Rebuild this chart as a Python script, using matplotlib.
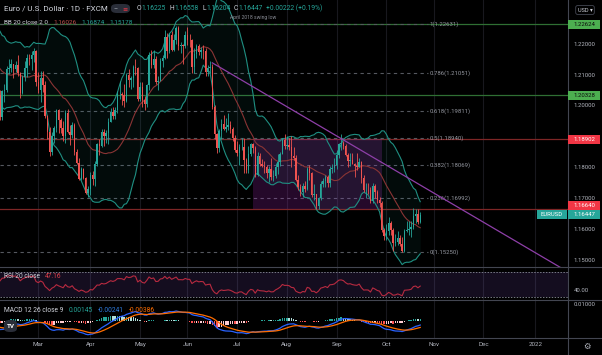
import numpy as np
import pandas as pd
import matplotlib.pyplot as plt
from matplotlib import transforms
from matplotlib.lines import Line2D
from matplotlib.patches import Rectangle, FancyBboxPatch

plt.rcParams['font.family'] = ['Roboto', 'DejaVu Sans']

W, H = 602, 355
BG = '#000000'
TXT = '#d1d4dc'
AXT = '#b2b5be'
GREEN = '#26a69a'
RED = '#ef5350'

# EUR/USD daily (FXCM). January bars sit left of the view and only feed the indicators
warmup_close = [1.2250, 1.2297, 1.2326, 1.2270, 1.2220, 1.2150, 1.2207, 1.2160, 1.2155, 1.2080,
                1.2075, 1.2130, 1.2110, 1.2165, 1.2170, 1.2140, 1.2160, 1.2110, 1.2120, 1.2135,
                1.2060, 1.2040, 1.2035]

# one bar per weekday, 2021-02-04 .. 2021-10-22, open = previous close
close = [
    # feb
    1.1963, 1.2046, 1.2050, 1.2119, 1.2120, 1.2134, 1.2119, 1.2130, 1.2105, 1.2039, 1.2091, 1.2120,
    1.2155, 1.2150, 1.2165, 1.2175, 1.2075,
    # mar
    1.2050, 1.2090, 1.2065, 1.1966, 1.1915, 1.1848, 1.1900, 1.1928, 1.1984, 1.1952, 1.1928, 1.1900,
    1.1977, 1.1915, 1.1903, 1.1938, 1.1851, 1.1814, 1.1763, 1.1793, 1.1765, 1.1718, 1.1730,
    # apr
    1.1776, 1.1762, 1.1812, 1.1874, 1.1870, 1.1915, 1.1900, 1.1912, 1.1947, 1.1980, 1.1965, 1.1985,
    1.2036, 1.2037, 1.2034, 1.2016, 1.2098, 1.2081, 1.2090, 1.2126, 1.2120, 1.2020,
    # may
    1.2061, 1.2017, 1.2004, 1.2066, 1.2163, 1.2130, 1.2150, 1.2075, 1.2080, 1.2145, 1.2155, 1.2222,
    1.2175, 1.2228, 1.2180, 1.2213, 1.2250, 1.2193, 1.2195, 1.2192, 1.2228,
    # jun
    1.2213, 1.2212, 1.2126, 1.2166, 1.2193, 1.2172, 1.2180, 1.2175, 1.2107, 1.2120, 1.2125, 1.1995,
    1.1908, 1.1863, 1.1918, 1.1941, 1.1925, 1.1930, 1.1937, 1.1924, 1.1896, 1.1857,
    # jul
    1.1846, 1.1865, 1.1866, 1.1823, 1.1791, 1.1843, 1.1875, 1.1861, 1.1775, 1.1835, 1.1810, 1.1805,
    1.1800, 1.1780, 1.1795, 1.1770, 1.1772, 1.1800, 1.1818, 1.1843, 1.1888, 1.1870,
    # aug
    1.1872, 1.1865, 1.1835, 1.1830, 1.1760, 1.1735, 1.1720, 1.1740, 1.1730, 1.1795, 1.1780, 1.1710,
    1.1712, 1.1675, 1.1700, 1.1745, 1.1755, 1.1770, 1.1750, 1.1795, 1.1798, 1.1808,
    # sep
    1.1840, 1.1875, 1.1880, 1.1870, 1.1840, 1.1820, 1.1825, 1.1812, 1.1805, 1.1802, 1.1818, 1.1765,
    1.1725, 1.1727, 1.1725, 1.1690, 1.1740, 1.1720, 1.1695, 1.1683, 1.1596, 1.1578,
    # oct
    1.1595, 1.1620, 1.1598, 1.1555, 1.1558, 1.1570, 1.1553, 1.1528, 1.1595, 1.1597, 1.1600, 1.1608,
    1.1643, 1.1650, 1.16225, 1.16447,
]
high = [
    1.2050, 1.2050, 1.2068, 1.2128, 1.2150, 1.2150, 1.2135, 1.2145, 1.2165, 1.2110, 1.2100, 1.2145,
    1.2168, 1.2168, 1.2176, 1.2185, 1.2180,
    1.2110, 1.2112, 1.2113, 1.2080, 1.1970, 1.1930, 1.1915, 1.1935, 1.1990, 1.1990, 1.1960, 1.1950,
    1.1985, 1.1990, 1.1937, 1.1945, 1.1942, 1.1858, 1.1830, 1.1800, 1.1797, 1.1770, 1.1740,
    1.1785, 1.1788, 1.1820, 1.1880, 1.1890, 1.1925, 1.1925, 1.1920, 1.1960, 1.1992, 1.1995, 1.1995,
    1.2048, 1.2080, 1.2045, 1.2070, 1.2105, 1.2117, 1.2095, 1.2130, 1.2150, 1.2125,
    1.2075, 1.2075, 1.2030, 1.2070, 1.2172, 1.2180, 1.2180, 1.2160, 1.2095, 1.2155, 1.2165, 1.2245,
    1.2235, 1.2235, 1.2240, 1.2230, 1.2258, 1.2258, 1.2205, 1.2200, 1.2240,
    1.2255, 1.2230, 1.2215, 1.2185, 1.2200, 1.2200, 1.2190, 1.2195, 1.2185, 1.2130, 1.2145, 1.2135,
    1.2000, 1.1910, 1.1925, 1.1955, 1.1970, 1.1960, 1.1975, 1.1950, 1.1930, 1.1905,
    1.1885, 1.1876, 1.1895, 1.1895, 1.1830, 1.1868, 1.1880, 1.1880, 1.1870, 1.1848, 1.1845, 1.1828,
    1.1820, 1.1808, 1.1805, 1.1829, 1.1790, 1.1815, 1.1843, 1.1850, 1.1895, 1.1909,
    1.1900, 1.1895, 1.1900, 1.1865, 1.1840, 1.1775, 1.1745, 1.1750, 1.1755, 1.1802, 1.1806, 1.1785,
    1.1745, 1.1715, 1.1705, 1.1755, 1.1765, 1.1775, 1.1775, 1.1803, 1.1810, 1.1830,
    1.1857, 1.1880, 1.1909, 1.1885, 1.1875, 1.1845, 1.1845, 1.1845, 1.1815, 1.1845, 1.1830, 1.1820,
    1.1775, 1.1750, 1.1750, 1.1735, 1.1750, 1.1745, 1.1725, 1.1705, 1.1690, 1.1605,
    1.1615, 1.1640, 1.1625, 1.1605, 1.1585, 1.1595, 1.1580, 1.1575, 1.1600, 1.1625, 1.1625, 1.1625,
    1.1668, 1.1665, 1.1665, 1.16558,
]
low = [
    1.1952, 1.1952, 1.2012, 1.2044, 1.2102, 1.2108, 1.2090, 1.2110, 1.2095, 1.2023, 1.2036, 1.2080,
    1.2093, 1.2130, 1.2116, 1.2140, 1.2063,
    1.2040, 1.2010, 1.2045, 1.1960, 1.1893, 1.1836, 1.1840, 1.1880, 1.1915, 1.1910, 1.1910, 1.1885,
    1.1880, 1.1910, 1.1873, 1.1895, 1.1840, 1.1810, 1.1760, 1.1760, 1.1762, 1.1712, 1.1704,
    1.1710, 1.1742, 1.1740, 1.1805, 1.1840, 1.1865, 1.1870, 1.1880, 1.1875, 1.1945, 1.1955, 1.1955,
    1.1975, 1.2020, 1.2000, 1.1995, 1.2012, 1.2060, 1.2055, 1.2060, 1.2100, 1.2015,
    1.2015, 1.1995, 1.1986, 1.1995, 1.2050, 1.2120, 1.2120, 1.2070, 1.2050, 1.2080, 1.2125, 1.2150,
    1.2155, 1.2170, 1.2175, 1.2175, 1.2200, 1.2180, 1.2170, 1.2135, 1.2185,
    1.2195, 1.2190, 1.2105, 1.2105, 1.2155, 1.2165, 1.2155, 1.2150, 1.2095, 1.2095, 1.2105, 1.1990,
    1.1890, 1.1847, 1.1850, 1.1890, 1.1920, 1.1915, 1.1920, 1.1910, 1.1885, 1.1850,
    1.1838, 1.1807, 1.1855, 1.1782, 1.1780, 1.1780, 1.1838, 1.1845, 1.1770, 1.1772, 1.1805, 1.1800,
    1.1780, 1.1765, 1.1752, 1.1760, 1.1755, 1.1765, 1.1778, 1.1803, 1.1843, 1.1860,
    1.1860, 1.1855, 1.1800, 1.1825, 1.1755, 1.1727, 1.1708, 1.1705, 1.1720, 1.1725, 1.1760, 1.1705,
    1.1695, 1.1665, 1.1664, 1.1695, 1.1735, 1.1735, 1.1735, 1.1735, 1.1780, 1.1785,
    1.1795, 1.1830, 1.1855, 1.1860, 1.1835, 1.1800, 1.1805, 1.1810, 1.1770, 1.1790, 1.1800, 1.1750,
    1.1720, 1.1700, 1.1715, 1.1685, 1.1685, 1.1700, 1.1685, 1.1670, 1.1590, 1.1565,
    1.1565, 1.1580, 1.1580, 1.1530, 1.1545, 1.1550, 1.1545, 1.1525, 1.1525, 1.1590, 1.1580, 1.1575,
    1.1600, 1.1620, 1.1618, 1.16204,
]

# drawings
green_levels = [1.22624, 1.20328]
red_levels = [1.18902, 1.16640]
fib_ratios = ['1', '0.786', '0.618', '0.5', '0.382', '0.236', '0']
fib_prices = [1.22631, 1.21051, 1.19811, 1.18940, 1.18069, 1.16992, 1.15250]
range_box = ('2021-07-12', '2021-09-29', 1.16640, 1.18902)
trend_pts = [('2021-06-16', 1.2138), ('2021-09-03', 1.1893)]
price_ticks = [1.15, 1.16, 1.17, 1.18, 1.20, 1.21, 1.22]

# pane geometry (pixels)
P_TOP, P_BOT = 1.234142, 1.147638
RSI_LIM = (24.7, 77.0)
MACD_LIM = (-0.0102, 0.01235)
X_LIM = (23.05, 274.4)

cal = pd.bdate_range('2021-01-04', '2022-02-28')
pos = pd.Series(np.arange(len(cal)), index=cal)
full = pd.Series(warmup_close + close)
n0 = len(warmup_close)
idx = np.arange(n0, n0 + len(close))
c = np.array(close)
o = np.array([warmup_close[-1]] + close[:-1])

# indicators
basis = full.rolling(20).mean()
dev = full.rolling(20).std(ddof=0) * 2
upper, lower = basis + dev, basis - dev

delta = full.diff()
gain = delta.clip(lower=0).ewm(alpha=1 / 20, adjust=False).mean()
loss = (-delta.clip(upper=0)).ewm(alpha=1 / 20, adjust=False).mean()
rsi = 100 - 100 / (1 + gain / loss)

macd = full.ewm(span=12, adjust=False).mean() - full.ewm(span=26, adjust=False).mean()
signal = macd.ewm(span=9, adjust=False).mean()
hist = macd - signal

fig = plt.figure(figsize=(W / 100, H / 100), dpi=100, facecolor=BG)


def px_axes(top, bottom):
    a = fig.add_axes([0, 1 - bottom / H, 568 / W, (bottom - top) / H])
    a.set_facecolor(BG)
    for s in a.spines.values():
        s.set_visible(False)
    a.set_xlim(*X_LIM)
    a.yaxis.tick_right()
    a.tick_params(axis='y', length=0, pad=4, labelsize=4.3, labelcolor=AXT)
    a.tick_params(axis='x', length=0)
    return a


ax = px_axes(0, 267.3)
ax_rsi = px_axes(267.3, 300)
ax_macd = px_axes(300, 338.3)

months = pos.groupby([cal.year, cal.month]).first()
months = months[(months > X_LIM[0]) & (months < X_LIM[1])]
mlabels = [cal[i].strftime('%b') if cal[i].month != 1 else str(cal[i].year) for i in months.values]
for a in (ax, ax_rsi, ax_macd):
    for m in months.values:
        a.axvline(m, color='#18181e', lw=0.8, zorder=0)

# price pane
ax.set_ylim(P_BOT, P_TOP)
ax.set_yticks(price_ticks, [f'{t:.5f}' for t in price_ticks])
ax.set_xticks([])

for lv in green_levels:
    ax.axhline(lv, color='#2f6f33', lw=0.9, zorder=1)
for lv in red_levels:
    ax.axhline(lv, color='#7e2626', lw=0.9, zorder=1)

fib_end = X_LIM[0] + (428 / 568) * (X_LIM[1] - X_LIM[0])
for r, p in zip(fib_ratios, fib_prices):
    ax.plot([X_LIM[0], fib_end], [p, p], color='#55585f', lw=0.8, ls=(0, (3, 3)), zorder=1)
    ax.text(fib_end + 0.8, p, f'{r}({p:.5f})', color='#9598a1', fontsize=4.3, va='center', ha='left')

ax.annotate('April 2018 swing low', xy=(pos[pd.Timestamp('2021-07-12')], green_levels[0]),
            xytext=(0, 4), textcoords='offset points', color='#8a8d96', fontsize=3.6, ha='center')

bx0, bx1 = pos[pd.Timestamp(range_box[0])], pos[pd.Timestamp(range_box[1])]
ax.add_patch(Rectangle((bx0, range_box[2]), bx1 - bx0, range_box[3] - range_box[2],
                       fc='#9c27b0', alpha=0.24, ec='none', zorder=1))

bx = np.arange(19, len(full))
ax.fill_between(bx, lower[19:], upper[19:], color=GREEN, alpha=0.07, lw=0, zorder=1)
ax.plot(bx, upper[19:], color='#1f8f82', lw=0.8, zorder=2)
ax.plot(bx, lower[19:], color='#1f8f82', lw=0.8, zorder=2)
ax.plot(bx, basis[19:], color='#8a3434', lw=0.8, zorder=2)

col = np.where(c >= o, GREEN, RED)
ax.vlines(idx, low, high, colors=col, lw=0.6, zorder=3)
ax.bar(idx, np.maximum(np.abs(c - o), 0.00008), bottom=np.minimum(o, c), width=0.62,
       color=col, lw=0, zorder=4)

(t0, v0), (t1, v1) = trend_pts
x0, x1 = pos[pd.Timestamp(t0)], pos[pd.Timestamp(t1)]
slope = (v1 - v0) / (x1 - x0)
ax.plot([x0, X_LIM[1]], [v0, v0 + slope * (X_LIM[1] - x0)], color='#8e3fa8', lw=0.9, zorder=5)

# RSI pane
ax_rsi.set_ylim(*RSI_LIM)
ax_rsi.axhspan(30, 70, color='#7e57c2', alpha=0.16, lw=0, zorder=0)
for lv in (70, 30):
    ax_rsi.axhline(lv, color='#787b86', lw=0.7, ls=(0, (1.5, 1.5)))
ax_rsi.plot(idx, rsi[n0:], color='#b82a40', lw=0.8)
ax_rsi.set_yticks([40], ['40.00'])
ax_rsi.set_xticks([])

# MACD pane
ax_macd.set_ylim(*MACD_LIM)
hv = hist.values
hcol = []
for i in idx:
    rising = hv[i] > hv[i - 1]
    if hv[i] >= 0:
        hcol.append('#26a69a' if rising else '#b2dfdb')
    else:
        hcol.append('#ffcdd2' if rising else '#ff5252')
ax_macd.bar(idx, hv[n0:], width=0.62, color=hcol, lw=0)
ax_macd.plot(idx, macd[n0:], color='#2962ff', lw=0.9)
ax_macd.plot(idx, signal[n0:], color='#ff6d00', lw=0.9)
ax_macd.set_yticks([0.01], ['0.01000'])
ax_macd.set_xticks(months.values, mlabels)
ax_macd.tick_params(axis='x', pad=3, labelsize=4.5, labelcolor=AXT)

# separators
for y in (267.3, 300, 338.3):
    fig.add_artist(Line2D([0, 1], [1 - y / H] * 2, color='#434651', lw=0.8))
fig.add_artist(Line2D([568 / W] * 2, [0, 1], color='#434651', lw=0.8))

# price tags on the right
per_px = (P_TOP - P_BOT) / 267.3
tr = transforms.blended_transform_factory(fig.transFigure, ax.transData)


def price_tag(value, label, fc, tc, dy=0.0, xa=568, xb=600):
    yc = value - dy * per_px
    fig.add_artist(Rectangle((xa / W, yc - 4.5 * per_px), (xb - xa) / W, 9 * per_px,
                             transform=tr, fc=fc, ec='none', zorder=5))
    fig.text((xa + xb) / 2 / W, yc, label, transform=tr, ha='center', va='center',
             color=tc, fontsize=4.3, zorder=6)


price_tag(green_levels[0], f'{green_levels[0]:.5f}', '#4caf50', '#0b0b0b')
price_tag(green_levels[1], f'{green_levels[1]:.5f}', '#4caf50', '#0b0b0b')
price_tag(red_levels[0], f'{red_levels[0]:.5f}', '#f23645', 'white')
price_tag(red_levels[1], f'{red_levels[1]:.5f}', '#f23645', 'white', dy=-4)
price_tag(close[-1], f'{close[-1]:.5f}', GREEN, 'white', dy=-1)
price_tag(close[-1], 'EURUSD', GREEN, 'white', dy=-1, xa=537, xb=567)

fig.text(585 / W, 1 - 10 / H, 'USD ▾', color=TXT, fontsize=4, ha='center', va='center',
         bbox=dict(boxstyle='round,pad=0.35', fc=BG, ec='#434651', lw=0.6))

# legends
renderer = fig.canvas.get_renderer()


def text_runs(x, y, runs, size):
    for s, colr, gap in runs:
        t = fig.text(x / W, 1 - y / H, s, color=colr, fontsize=size, va='center', ha='left')
        x += t.get_window_extent(renderer).width + gap


text_runs(4, 8.5, [('Euro / U.S. Dollar · 1D · FXCM', TXT, 0)], 5.8)
fig.add_artist(FancyBboxPatch((111 / W, 1 - 13 / H), 19 / W, 9 / H, boxstyle='round,pad=0,rounding_size=0.01',
                              transform=fig.transFigure, fc='#2a2e39', ec='none'))
fig.text(116 / W, 1 - 8.5 / H, '–', color=TXT, fontsize=4.5, ha='center', va='center')
fig.text(125 / W, 1 - 8.5 / H, '≡', color='#f23645', fontsize=4.5, ha='center', va='center')
ohlc = [('O', TXT, 0.3), ('1.16225', GREEN, 3.5), ('H', TXT, 0.3), ('1.16558', GREEN, 3.5),
        ('L', TXT, 0.3), ('1.16204', GREEN, 3.5), ('C', TXT, 0.3), ('1.16447', GREEN, 3.5),
        ('+0.00222 (+0.19%)', GREEN, 0)]
text_runs(137, 8.5, ohlc, 4.9)
text_runs(4, 22.5, [('BB 20 close 2 0', TXT, 5), ('1.16026', '#c0504d', 5),
                    ('1.16874', GREEN, 5), ('1.15178', GREEN, 0)], 4.6)
text_runs(4, 276.7, [('RSI 20 close', TXT, 5), ('47.16', '#e0404a', 0)], 4.8)
text_runs(4, 310, [('MACD 12 26 close 9', TXT, 5), ('0.00145', GREEN, 5),
                   ('-0.00241', '#2f7de1', 5), ('-0.00386', '#ff6d00', 0)], 4.8)

fig.add_artist(FancyBboxPatch((4 / W, 1 - 332 / H), 13 / W, 12 / H, boxstyle='round,pad=0,rounding_size=0.01',
                              transform=fig.transFigure, fc='#2a2e39', ec='none', zorder=5))
fig.text(10.5 / W, 1 - 326 / H, 'TV', color='white', fontsize=4.5, weight='bold',
         ha='center', va='center', zorder=6)
fig.text(587 / W, 1 - 347 / H, '⚙', color=AXT, fontsize=6, ha='center', va='center')

fig.savefig('out.png', dpi=100, facecolor=BG)
